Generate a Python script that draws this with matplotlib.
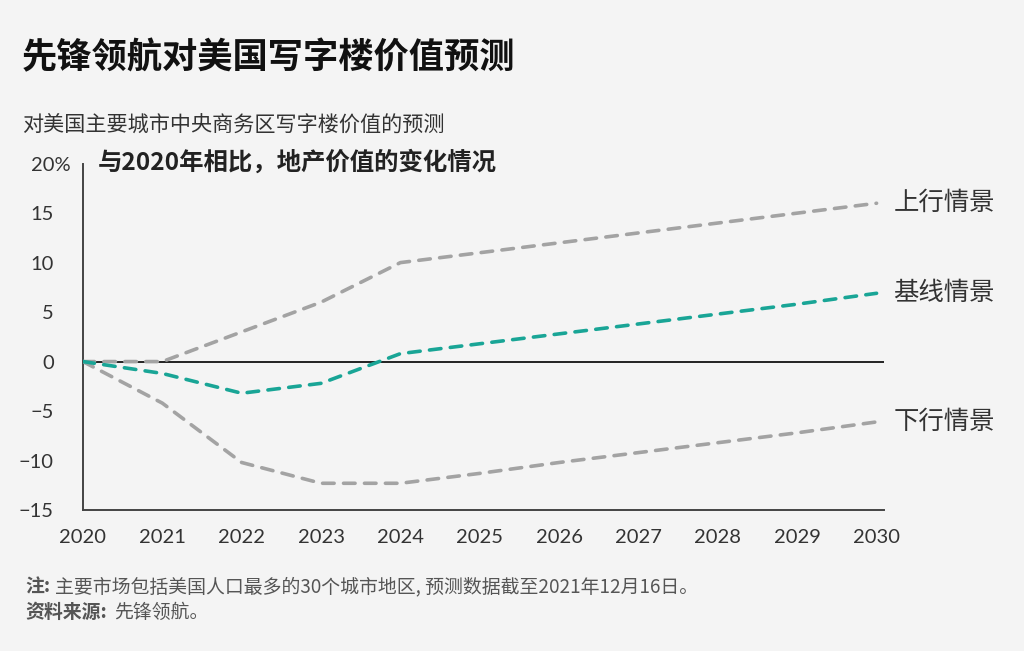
import matplotlib
matplotlib.use("Agg")
import matplotlib.pyplot as plt
from matplotlib.transforms import ScaledTranslation

CJK = ["Noto Sans CJK SC", "DejaVu Sans"]
NUM = ["Lato", "DejaVu Sans"]

years = [2020, 2021, 2022, 2023, 2024, 2025, 2026, 2027, 2028, 2029, 2030]
upside = [0, 0, 3.0, 6.0, 10.0, 11.0, 12.0, 13.0, 14.0, 15.0, 16.0]
baseline = [0, -1.2, -3.2, -2.2, 0.8, 1.8, 2.8, 3.8, 4.8, 5.8, 6.9]
downside = [0, -4.2, -10.2, -12.3, -12.3, -11.3, -10.2, -9.2, -8.2, -7.2, -6.1]

y_ticks = [-15, -10, -5, 0, 5, 10, 15, 20]
y_labels = ["−15", "−10", "−5", "0", "5", "10", "15", "20%"]

series_labels = ["上行情景", "基线情景", "下行情景"]

BG = "#f4f4f4"
GREY = "#a3a3a3"
TEAL = "#19a596"
TEXT = "#333333"
NOTE = "#555555"

fig = plt.figure(figsize=(10.24, 6.51), dpi=100, facecolor=BG)
ax = fig.add_axes([0.081, 0.2166, 0.782, 0.532])
ax.set_facecolor(BG)

ax.axhline(0, color="#222222", linewidth=1.4, zorder=1)
for vals, color in [(upside, GREY), (downside, GREY), (baseline, TEAL)]:
    ax.plot(years, vals, color=color, linewidth=2.6, dashes=(3.2, 2.6),
            dash_capstyle="round", zorder=3)

ax.set_xlim(2020, 2030.09)
ax.set_ylim(-15, 20)
ax.set_xticks(years)
ax.set_xticklabels([str(y) for y in years], family=NUM, fontsize=14.5, color=TEXT)
ax.set_yticks(y_ticks)
ax.set_yticklabels(y_labels, family=NUM, fontsize=14.5, color=TEXT)
ax.tick_params(axis="both", length=0)
ax.tick_params(axis="x", pad=14)
ax.tick_params(axis="y", pad=21)
for side in ("top", "right"):
    ax.spines[side].set_visible(False)
for side in ("left", "bottom"):
    ax.spines[side].set_color("#444444")
    ax.spines[side].set_linewidth(1.4)

# the "%" hangs past the right edge of the other tick labels
top_lbl = ax.get_yticklabels()[-1]
top_lbl.set_transform(top_lbl.get_transform()
                      + ScaledTranslation(0.17, 0, fig.dpi_scale_trans))

# end labels
for vals, lab in zip([upside, baseline, downside], series_labels):
    ax.annotate(lab, xy=(years[-1], vals[-1]), xytext=(12, 0),
                textcoords="offset points", ha="left", va="center",
                family=CJK, fontsize=18.3, color=TEXT, annotation_clip=False)

fig.text(0.095, 0.751, "与2020年相比，地产价值的变化情况", family=CJK,
         fontsize=17.6, fontweight="bold", color="#222222", va="center")

fig.text(0.021, 0.912, "先锋领航对美国写字楼价值预测", family=CJK,
         fontsize=25.4, fontweight="bold", color="#111111", va="center")
fig.text(0.022, 0.808, "对美国主要城市中央商务区写字楼价值的预测", family=CJK,
         fontsize=15.2, color=TEXT, va="center")

fig.text(0.025, 0.098, "注:", family=CJK, fontsize=13.6, fontweight="bold",
         color=NOTE, va="center")
fig.text(0.054, 0.098, "主要市场包括美国人口最多的30个城市地区, 预测数据截至2021年12月16日。",
         family=CJK, fontsize=13.6, color=NOTE, va="center")
fig.text(0.025, 0.059, "资料来源:", family=CJK, fontsize=13.6, fontweight="bold",
         color=NOTE, va="center")
fig.text(0.111, 0.059, "先锋领航。", family=CJK, fontsize=13.6, color=NOTE,
         va="center")

fig.savefig("out.png", dpi=100, facecolor=BG)
